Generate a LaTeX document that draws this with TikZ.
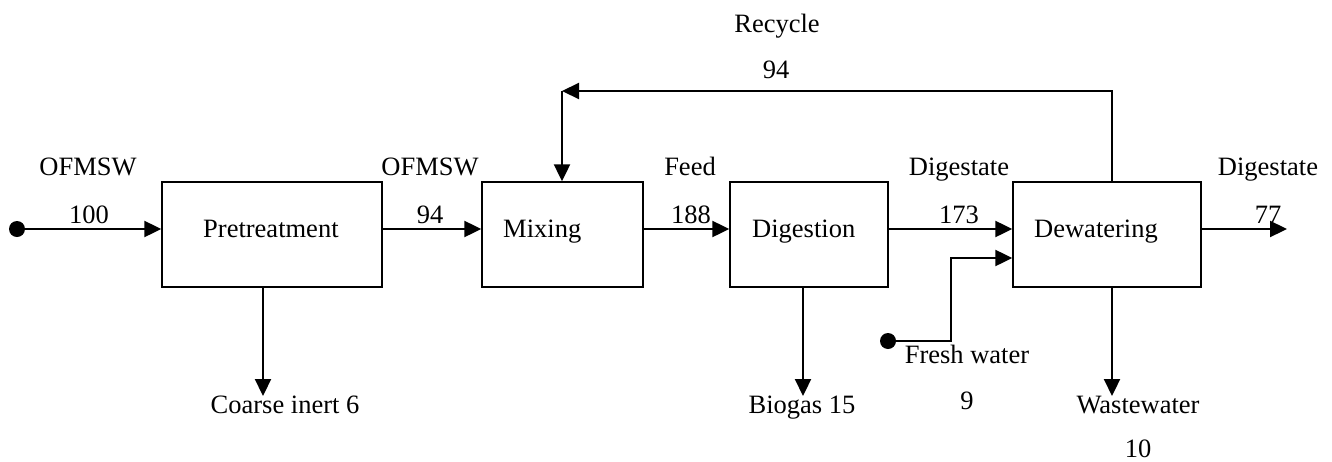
\documentclass[tikz,border=0pt]{standalone}
\usepackage{fontspec}
\setmainfont{Liberation Serif}
\usetikzlibrary{arrows.meta}
\begin{document}
\begin{tikzpicture}[x=1pt,y=-1pt,
  every node/.style={font=\fontsize{26.5}{30}\selectfont},
  box/.style={draw, line width=1.4pt, minimum height=105pt, inner sep=0pt},
  lbl/.style={inner sep=0pt, anchor=base},
  boxtext/.style={inner sep=0pt, anchor=base west},
  dot/.style={circle, fill=black, minimum size=16pt, inner sep=0pt},
  flow/.style={line width=2.2pt, -{Triangle[length=17pt,width=16pt]}}]
\useasboundingbox (0,0) rectangle (1332,461);

% main flow line level
\coordinate (ln) at (0,229);

% process units
\node[box, minimum width=220pt] (pre) at (272,234.5) {};
\node[box, minimum width=161pt] (mix) at (562.5,234.5) {};
\node[box, minimum width=158pt] (dig) at (809,234.5) {};
\node[box, minimum width=188pt] (dew) at (1107,234.5) {};
\node[boxtext] at (203,237) {Pretreatment};
\node[boxtext] at (503,237) {Mixing};
\node[boxtext] at (752,237) {Digestion};
\node[boxtext] at (1034,237) {Dewatering};

% sources and free ends
\node[dot] (src) at (17,229) {};
\node[dot] (fw) at (888,341) {};
\coordinate (out) at (1287,229);
\coordinate (ci) at (263,396);
\coordinate (bg) at (803,396);
\coordinate (ww) at (1112,396);
\coordinate (fk) at (951,258);
\coordinate (rr) at (1112,91);
\coordinate (rl) at (562,91);

% main streams
\draw[flow] (src) -- (src -| pre.west);
\draw[flow] (pre.east |- ln) -- (mix.west |- ln);
\draw[flow] (mix.east |- ln) -- (dig.west |- ln);
\draw[flow] (dig.east |- ln) -- (dew.west |- ln);
\draw[flow] (dew.east |- ln) -- (out);

% side streams
\draw[flow] (pre.south -| ci) -- (ci);
\draw[flow] (dig.south -| bg) -- (bg);
\draw[flow] (dew.south -| ww) -- (ww);
\draw[flow] (fw) -| (fk) -- (dew.west |- fk);

% recycle loop
\draw[flow] (dew.north -| rr) -- (rr) -- (rl);
\draw[flow] (rl) -- (mix.north -| rl);

% stream labels
\node[lbl] at (88,175) {OFMSW};
\node[lbl] at (89,223) {100};
\node[lbl] at (430,175) {OFMSW};
\node[lbl] at (430,223) {94};
\node[lbl] at (690,175) {Feed};
\node[lbl] at (691,223) {188};
\node[lbl] at (959,175) {Digestate};
\node[lbl] at (959,223) {173};
\node[lbl] at (1268,175) {Digestate};
\node[lbl] at (1268,223) {77};
\node[lbl] at (777,32) {Recycle};
\node[lbl] at (776,78) {94};
\node[lbl] at (285,413) {Coarse inert 6};
\node[lbl] at (802,413) {Biogas 15};
\node[lbl] at (967,363) {Fresh water};
\node[lbl] at (967,409) {9};
\node[lbl] at (1138,413) {Wastewater};
\node[lbl] at (1138,457) {10};
\end{tikzpicture}
\end{document}
